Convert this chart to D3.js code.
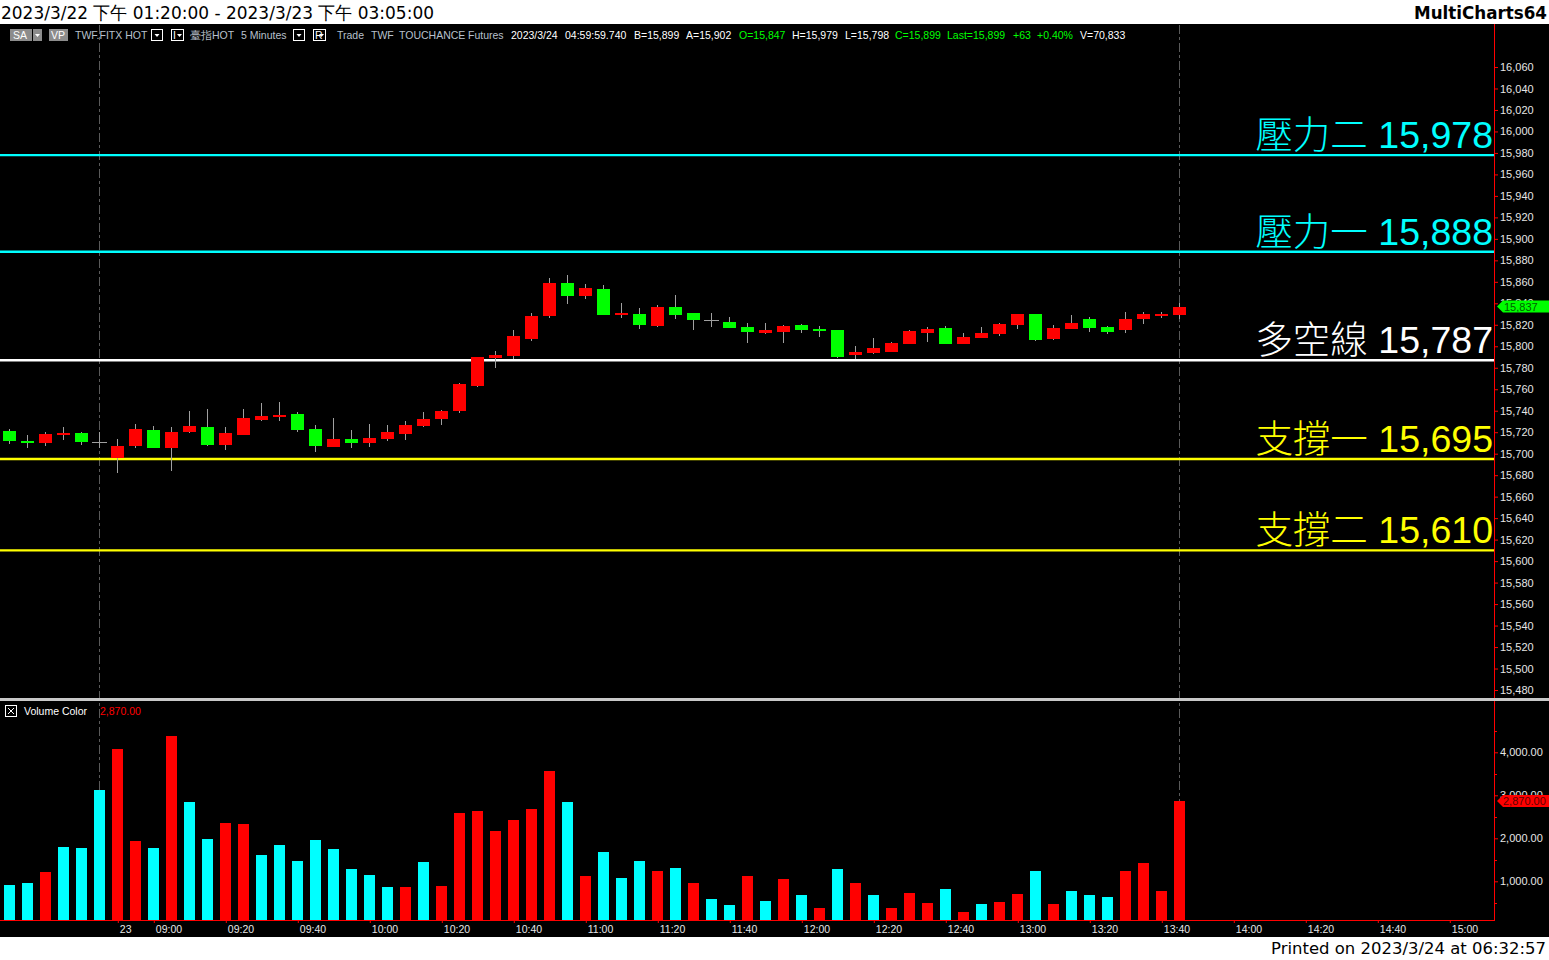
<!DOCTYPE html>
<html><head><meta charset="utf-8">
<script src="https://cdn.jsdelivr.net/npm/d3@7"></script>
<style>body{margin:0;background:#fff;overflow:hidden}</style>
</head><body><svg id="c" width="1549" height="960"></svg>
<script>
// ---------- data ----------
const opens  = [15721,15712,15710,15717,15719,15711,15696,15707,15722,15705,15720,15725,15708,15717,15731,15735,15737,15723,15706,15714,15710,15714,15718,15726,15732,15740,15763,15789,15791,15807,15828,15859,15847,15853,15829,15830,15819,15837,15831,15824,15823,15818,15812,15813,15820,15816,15815,15792,15794,15795,15802,15812,15817,15802,15808,15811,15820,15830,15807,15816,15825,15818,15815,15825,15829,15829];
const highs  = [15723,15717,15720,15725,15720,15720,15714,15728,15726,15725,15740,15742,15725,15742,15747,15748,15739,15727,15733,15722,15728,15727,15730,15739,15741,15766,15790,15796,15815,15831,15864,15866,15858,15857,15840,15836,15838,15848,15831,15831,15827,15822,15822,15820,15821,15819,15815,15800,15808,15804,15815,15818,15819,15812,15818,15822,15830,15830,15820,15829,15827,15819,15832,15832,15832,15840];
const lows   = [15709,15705,15707,15713,15708,15705,15682,15705,15705,15684,15719,15707,15703,15717,15730,15730,15720,15702,15706,15705,15706,15712,15713,15725,15727,15738,15762,15780,15788,15805,15826,15839,15844,15829,15826,15816,15818,15825,15815,15818,15817,15803,15811,15803,15812,15809,15789,15788,15793,15795,15802,15804,15802,15802,15808,15810,15816,15805,15806,15816,15813,15811,15812,15821,15826,15825];
const closes = [15712,15710,15718,15719,15711,15711,15707,15723,15705,15720,15726,15708,15719,15733,15735,15736,15722,15707,15714,15710,15715,15720,15727,15732,15740,15765,15790,15792,15810,15828,15859,15847,15854,15829,15831,15820,15837,15829,15824,15824,15817,15813,15815,15819,15815,15814,15790,15795,15798,15803,15814,15816,15802,15809,15812,15821,15830,15806,15817,15822,15817,15813,15825,15830,15830,15837];
const volumes = [925,950,1207,1793,1770,3130,4067,1932,1770,4372,2849,1980,2356,2333,1605,1840,1465,1956,1747,1277,1135,877,877,1440,902,2590,2637,2167,2426,2684,3574,2849,1112,1674,1088,1465,1230,1300,972,595,456,1112,549,1065,690,386,1277,949,690,386,737,502,830,291,479,526,714,1230,479,784,690,644,1230,1416,784,2870];
const volumeUp = [0,0,1,0,0,0,1,1,0,1,0,0,1,1,0,0,0,0,0,0,0,0,1,0,1,1,1,1,1,1,1,0,1,0,0,0,1,0,1,0,0,1,0,1,0,1,0,1,0,1,1,1,0,1,0,1,1,0,1,0,0,0,1,1,1,1];
const levelValues = [15978,15888,15787,15695,15610];
const levelNames  = ["壓力二","壓力一","多空線","支撐一","支撐二"];
const levelColors = ["#00ffff","#00ffff","#ffffff","#ffff00","#ffff00"];
const xTickIndex  = [6,8,12,16,20,24,28,32,36,40,44,48,52,56,60,64,68,72,76,80];
const xTickLabels = ["23","09:00","09:20","09:40","10:00","10:20","10:40","11:00","11:20","11:40","12:00","12:20","12:40","13:00","13:20","13:40","14:00","14:20","14:40","15:00"];
const priceTicks  = d3.range(15480,16061,20);
const volTicks    = [1000,2000,3000,4000];
const volMinorTicks = [500,1500,2500,3500,4500];
const lastPrice = 15837, lastVolume = 2870;
const dividerIndex = 5, lastIndex = 65;

// ---------- layout ----------
const svg = d3.select("#c");
const AX = 1494;
const x  = d3.scaleLinear().domain([0,65]).range([9.3,1179.3]);
const y  = d3.scaleLinear().domain([15480,16060]).range([690,67]);
const yv = d3.scaleLinear().domain([0,4000]).range([924.3,752.3]);
const SANS = "'Liberation Sans', Arial, sans-serif";
const CJK = "'Noto Sans CJK TC','Noto Sans CJK SC',sans-serif";

svg.append("rect").attr("x",0).attr("y",0).attr("width",1549).attr("height",960).attr("fill","#fff");
svg.append("rect").attr("x",0).attr("y",24).attr("width",1549).attr("height",913).attr("fill","#000");

// header / footer
svg.append("text").attr("x",1).attr("y",19).attr("font-family","'DejaVu Sans',sans-serif").attr("font-size",18)
  .attr("textLength",433).attr("lengthAdjust","spacingAndGlyphs").attr("fill","#000")
  .text("2023/3/22 下午 01:20:00 - 2023/3/23 下午 03:05:00");
svg.append("text").attr("x",1547).attr("y",19).attr("text-anchor","end").attr("font-family","'DejaVu Sans',sans-serif")
  .attr("font-weight","bold").attr("font-size",17).attr("textLength",133).attr("lengthAdjust","spacingAndGlyphs")
  .attr("fill","#000").text("MultiCharts64");
svg.append("text").attr("x",1546).attr("y",954).attr("text-anchor","end").attr("font-family","'DejaVu Sans',sans-serif")
  .attr("font-size",16.5).attr("textLength",275).attr("lengthAdjust","spacingAndGlyphs")
  .attr("fill","#000").text("Printed on 2023/3/24 at 06:32:57");

// dashed vertical markers
[dividerIndex,lastIndex].forEach(i=>{
  svg.append("line").attr("x1",Math.round(x(i))+0.5).attr("x2",Math.round(x(i))+0.5).attr("y1",25).attr("y2",920)
    .attr("stroke","#5a5a5a").attr("stroke-dasharray","9,3,3,3");
});

// info bar
const info = svg.append("g").attr("font-family",SANS).attr("font-size",10.5);
function box(x0,w,fill){ info.append("rect").attr("x",x0).attr("y",29).attr("width",w).attr("height",12).attr("fill",fill); }
box(10,22,"#8c8c8c"); box(33,9,"#8c8c8c");
info.append("text").attr("x",13).attr("y",39).attr("fill","#fff").text("SA");
info.append("path").attr("d","M35,34 L40,34 L37.5,37 Z").attr("fill","#fff");
box(49,19,"#8c8c8c");
info.append("text").attr("x",51).attr("y",39).attr("fill","#fff").text("VP");
function dd(x0,label){ info.append("rect").attr("x",x0+0.5).attr("y",29.5).attr("width",label?12:11).attr("height",11).attr("fill","none").attr("stroke","#fff");
  if(label) info.append("text").attr("x",x0+2).attr("y",39).attr("fill","#fff").text(label);
  const ax = x0 + (label?8.5:6);
  info.append("path").attr("d",`M${ax-2.5},34 L${ax+2.5},34 L${ax},37 Z`).attr("fill","#fff"); }
dd(151); dd(171,"I"); dd(293); dd(313,"R");
const tokens = [
  ["TWF.FITX HOT",75,"#b8c0cc"],["臺指HOT",190,"#b8c0cc"],["5 Minutes",241,"#b8c0cc"],
  ["Trade",337,"#b8c0cc"],["TWF",371,"#b8c0cc"],["TOUCHANCE",399,"#b8c0cc"],["Futures",468,"#b8c0cc"],
  ["2023/3/24",511,"#fff"],["04:59:59.740",565,"#fff"],["B=15,899",634,"#fff"],["A=15,902",686,"#fff"],
  ["O=15,847",739,"#00ff00"],["H=15,979",792,"#fff"],["L=15,798",845,"#fff"],["C=15,899",895,"#00ff00"],
  ["Last=15,899",947,"#00ff00"],["+63",1013,"#00ff00"],["+0.40%",1037,"#00ff00"],["V=70,833",1080,"#fff"]];
tokens.forEach(t=>info.append("text").attr("x",t[1]).attr("y",39).attr("fill",t[2]).text(t[0]));

// ---------- price pane ----------
const pane = svg.append("g");
svg.append("clipPath").attr("id","pc").append("rect").attr("x",0).attr("y",42).attr("width",AX).attr("height",656);
pane.attr("clip-path","url(#pc)");

// level lines + labels
levelValues.forEach((v,i)=>{
  pane.append("line").attr("x1",0).attr("x2",AX).attr("y1",y(v)).attr("y2",y(v))
    .attr("stroke",levelColors[i]).attr("stroke-width",2.4);
  const t = pane.append("text").attr("x",1493).attr("y",y(v)-7).attr("text-anchor","end").attr("fill",levelColors[i]).attr("font-size",37.5);
  t.append("tspan").attr("font-family",CJK).attr("font-weight",300).text(levelNames[i]);
  t.append("tspan").attr("font-family",SANS).text(" "+d3.format(",")(v));
});

// candles
const cg = pane.append("g").attr("shape-rendering","crispEdges");
opens.forEach((o,i)=>{
  const cx = Math.round(x(i)), c = closes[i];
  cg.append("line").attr("x1",cx+0.5).attr("x2",cx+0.5).attr("y1",y(highs[i])).attr("y2",y(lows[i])).attr("stroke","#a0a0a0");
  if (o===c) {
    cg.append("line").attr("x1",cx-7).attr("x2",cx+8).attr("y1",Math.round(y(c))+0.5).attr("y2",Math.round(y(c))+0.5).attr("stroke","#a0a0a0");
  } else {
    const top = y(Math.max(o,c)), bot = y(Math.min(o,c));
    cg.append("rect").attr("x",cx-6).attr("width",13).attr("y",top).attr("height",Math.max(2,bot-top))
      .attr("fill", c>o ? "#ff0000" : "#00ff00");
  }
});

// price axis
svg.append("line").attr("x1",AX+0.5).attr("x2",AX+0.5).attr("y1",24).attr("y2",698).attr("stroke","#ff0000");
const pax = svg.append("g").attr("transform",`translate(${AX},0)`)
  .call(d3.axisRight(y).tickValues(priceTicks).tickFormat(d3.format(",")).tickSize(4).tickPadding(2));
pax.select(".domain").remove();
pax.selectAll("line").attr("stroke","#ff0000");
pax.selectAll("text").attr("fill","#e6e6e6").attr("font-family",SANS).attr("font-size",11);

// last price marker
const lp = y(lastPrice);
svg.append("path").attr("d",`M1497,${lp} L1503,${lp-6} L1549,${lp-6} L1549,${lp+6} L1503,${lp+6} Z`).attr("fill","#00ff00");
svg.append("text").attr("x",1504).attr("y",lp+4).attr("fill","#006000").attr("font-family",SANS).attr("font-size",11)
  .text(d3.format(",")(lastPrice));

// pane separator
svg.append("rect").attr("x",0).attr("y",698).attr("width",1549).attr("height",3).attr("fill","#c8c8c8");

// ---------- volume pane ----------
const vg = svg.append("g").attr("shape-rendering","crispEdges");
volumes.forEach((v,i)=>{
  const cx = Math.round(x(i));
  vg.append("rect").attr("x",cx-5).attr("width",11).attr("y",yv(v)).attr("height",920-yv(v))
    .attr("fill", volumeUp[i] ? "#ff0000" : "#00ffff");
});
svg.append("line").attr("x1",AX+0.5).attr("x2",AX+0.5).attr("y1",701).attr("y2",921).attr("stroke","#ff0000");
const vax = svg.append("g").attr("transform",`translate(${AX},0)`)
  .call(d3.axisRight(yv).tickValues(volTicks).tickFormat(d3.format(",.2f")).tickSize(4).tickPadding(2));
vax.select(".domain").remove();
vax.selectAll("line").attr("stroke","#ff0000");
vax.selectAll("text").attr("fill","#e6e6e6").attr("font-family",SANS).attr("font-size",11);
volMinorTicks.forEach(v=>svg.append("line").attr("x1",AX).attr("x2",AX+3).attr("y1",Math.round(yv(v))+0.5).attr("y2",Math.round(yv(v))+0.5).attr("stroke","#ff0000"));

const lv = yv(lastVolume);
svg.append("path").attr("d",`M1497,${lv} L1503,${lv-6} L1549,${lv-6} L1549,${lv+6} L1503,${lv+6} Z`).attr("fill","#ff0000");
svg.append("text").attr("x",1503).attr("y",lv+4).attr("fill","#600000").attr("font-family",SANS).attr("font-size",11)
  .text(d3.format(",.2f")(lastVolume));

// volume header
svg.append("rect").attr("x",5.5).attr("y",705.5).attr("width",11).attr("height",11).attr("fill","none").attr("stroke","#fff");
svg.append("path").attr("d","M8,708 L14,714 M14,708 L8,714").attr("stroke","#fff");
svg.append("text").attr("x",24).attr("y",715).attr("fill","#fff").attr("font-family",SANS).attr("font-size",10.5).text("Volume Color");
svg.append("text").attr("x",100).attr("y",715).attr("fill","#ff0000").attr("font-family",SANS).attr("font-size",10.5).text(d3.format(",.2f")(lastVolume));

// x axis
svg.append("line").attr("x1",0).attr("x2",AX).attr("y1",920.5).attr("y2",920.5).attr("stroke","#ff0000");
const xax = svg.append("g").attr("transform","translate(0,920)")
  .call(d3.axisBottom(x).tickValues(xTickIndex).tickFormat((d,i)=>xTickLabels[i]).tickSize(3).tickPadding(3));
xax.select(".domain").remove();
xax.selectAll("line").attr("stroke","#ff0000").attr("transform","translate(0.5,0)");
xax.selectAll("text").attr("fill","#e6e6e6").attr("font-family",SANS).attr("font-size",10.5)
  .attr("text-anchor","start").attr("x",2);
</script></body></html>
